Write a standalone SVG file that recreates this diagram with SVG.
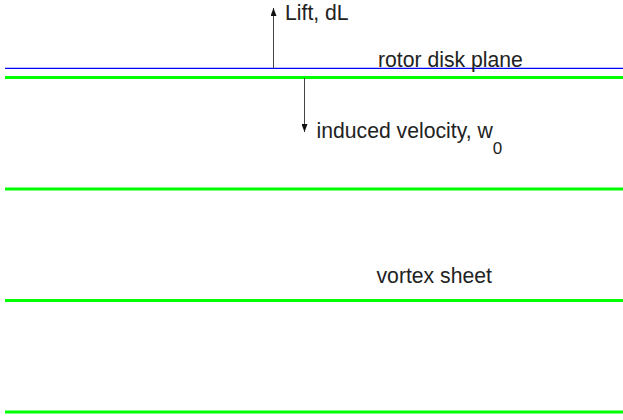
<svg xmlns="http://www.w3.org/2000/svg" width="623" height="420" viewBox="0 0 623 420">
<style>
.g{stroke:#00ff00;stroke-width:3;fill:none}
.b{stroke:#0000ff;stroke-width:1.3;fill:none}
.a{stroke:#444;stroke-width:1;fill:none}
text{font-family:"Liberation Sans",Arial,sans-serif;font-size:21.2px;fill:#222}
</style>
<defs>
<marker id="ah" viewBox="0 0 8 6" refX="8" refY="3" markerWidth="8" markerHeight="6" markerUnits="userSpaceOnUse" orient="auto">
<path d="M0,0 L8,3 L0,6 Z" fill="#111"/>
</marker>
</defs>
<g id="planes">
<line class="b" x1="5" y1="68.3" x2="623" y2="68.3"/>
<line class="g" x1="5" y1="77.5" x2="623" y2="77.5"/>
<line class="g" x1="5" y1="189" x2="623" y2="189"/>
<line class="g" x1="5" y1="300.5" x2="623" y2="300.5"/>
<line class="g" x1="5" y1="412" x2="623" y2="412"/>
</g>
<g id="connectors">
<line class="a" x1="273.5" y1="68" x2="273.5" y2="8" marker-end="url(#ah)"/>
<line class="a" x1="304.5" y1="78" x2="304.5" y2="132" marker-end="url(#ah)"/>
</g>
<g id="labels">
<text x="285" y="20">Lift, dL</text>
<text x="378" y="67">rotor disk plane</text>
<text x="316.5" y="138">induced velocity, w<tspan dy="16" font-size="17">0</tspan></text>
<text x="376.5" y="283">vortex sheet</text>
</g>
</svg>
